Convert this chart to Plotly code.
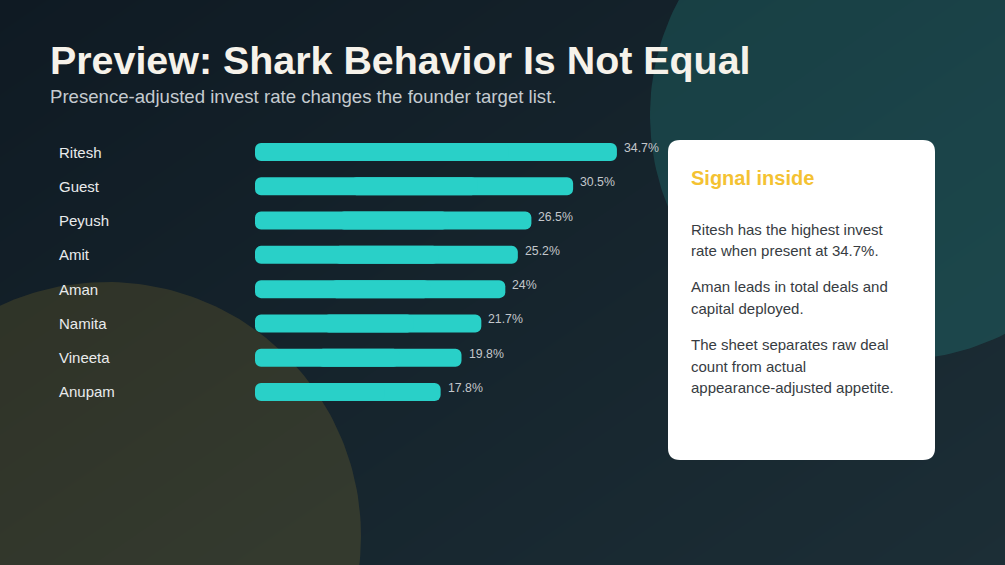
import numpy as np
import plotly.graph_objects as go

# ---- data ----
sharks = ["Ritesh", "Guest", "Peyush", "Amit", "Aman", "Namita", "Vineeta", "Anupam"]
invest_rate = [34.7, 30.5, 26.5, 25.2, 24.0, 21.7, 19.8, 17.8]
value_labels = [f"{v:g}%" for v in invest_rate]

title_text = "Preview: Shark Behavior Is Not Equal"
subtitle_text = "Presence-adjusted invest rate changes the founder target list."
card_title = "Signal inside"
card_lines = [
    ["Ritesh has the highest invest", "rate when present at 34.7%."],
    ["Aman leads in total deals and", "capital deployed."],
    ["The sheet separates raw deal", "count from actual", "appearance-adjusted appetite."],
]

W, H = 1005, 565
FONT = "Liberation Sans, Arial, sans-serif"
BAR_COLOR = "#29d0c8"

fig = go.Figure()

# background gradient (pixel-coordinate background subplot)
fig.add_trace(go.Heatmap(
    x=[0, W], y=[0, H], z=[[0.0, 0.55], [0.45, 1.0]],
    colorscale=[[0, "#0f1a23"], [1, "#1c2e36"]],
    zsmooth="best", showscale=False, hoverinfo="skip",
    xaxis="x", yaxis="y",
))


def circle(cx, cy, r, color):
    t = np.linspace(0, 2 * np.pi, 240)
    fig.add_trace(go.Scatter(
        x=cx + r * np.cos(t), y=cy + r * np.sin(t), mode="lines",
        fill="toself", fillcolor=color, line=dict(width=0),
        hoverinfo="skip", showlegend=False, xaxis="x", yaxis="y",
    ))


circle(895, 115, 245, "rgba(45,212,200,0.17)")
circle(107, 536, 254, "rgba(244,196,48,0.13)")

# bars: each bar drawn as two overlapping pieces, one rounded at the right end
# and one rounded at the left end, so both ends of the bar are rounded
bar_common = dict(
    y=sharks, orientation="h", width=0.525, hoverinfo="skip", showlegend=False,
    xaxis="x2", yaxis="y2",
    marker=dict(color=BAR_COLOR, line=dict(width=0), cornerradius=6),
)
fig.add_trace(go.Bar(x=[0.7 * v for v in invest_rate],
                     base=[0.3 * v for v in invest_rate], **bar_common))
fig.add_trace(go.Bar(x=[-0.7 * v for v in invest_rate],
                     base=[0.7 * v for v in invest_rate], **bar_common))

annotations = []
for name, v, lab in zip(sharks, invest_rate, value_labels):
    annotations.append(dict(
        x=57 / W, xref="paper", y=name, yref="y2", text=name,
        xanchor="left", yanchor="middle", showarrow=False,
        font=dict(family=FONT, size=15, color="#e9ebec"),
    ))
    annotations.append(dict(
        x=v, xref="x2", y=name, yref="y2", text=lab,
        xanchor="left", yanchor="middle", xshift=5, yshift=4, showarrow=False,
        font=dict(family=FONT, size=12.3, color="#c3c7cb"),
    ))

# title / subtitle
annotations.append(dict(
    x=48, y=60, xref="x", yref="y", text=f"<b>{title_text}</b>",
    xanchor="left", yanchor="middle", showarrow=False,
    font=dict(family=FONT, size=39.4, color="#f6f2ea"),
))
annotations.append(dict(
    x=48, y=96, xref="x", yref="y", text=subtitle_text,
    xanchor="left", yanchor="middle", showarrow=False,
    font=dict(family=FONT, size=18.6, color="#c5cbd0"),
))

# card text
annotations.append(dict(
    x=689, y=178, xref="x", yref="y", text=f"<b>{card_title}</b>",
    xanchor="left", yanchor="middle", showarrow=False,
    font=dict(family=FONT, size=20, color="#f4c232"),
))
y0 = 229
for para in card_lines:
    for line in para:
        annotations.append(dict(
            x=689, y=y0, xref="x", yref="y", text=line,
            xanchor="left", yanchor="middle", showarrow=False,
            font=dict(family=FONT, size=15, color="#373c42"),
        ))
        y0 += 21.7
    y0 += 14.3

r = 12
x0c, x1c, y0c, y1c = 668, 935, 140, 460
card_path = (
    f"M {x0c + r},{y0c} L {x1c - r},{y0c} Q {x1c},{y0c} {x1c},{y0c + r} "
    f"L {x1c},{y1c - r} Q {x1c},{y1c} {x1c - r},{y1c} "
    f"L {x0c + r},{y1c} Q {x0c},{y1c} {x0c},{y1c - r} "
    f"L {x0c},{y0c + r} Q {x0c},{y0c} {x0c + r},{y0c} Z"
)

fig.update_layout(
    width=W, height=H,
    margin=dict(l=0, r=0, t=0, b=0),
    paper_bgcolor="#142129", plot_bgcolor="rgba(0,0,0,0)",
    showlegend=False, barmode="overlay",
    xaxis=dict(domain=[0, 1], range=[0, W], visible=False, fixedrange=True),
    yaxis=dict(domain=[0, 1], range=[H, 0], visible=False, fixedrange=True),
    xaxis2=dict(domain=[255 / W, (255 + 40 * 10.43) / W], range=[0, 40],
                visible=False, anchor="y2", fixedrange=True),
    yaxis2=dict(domain=[1 - 409.1 / H, 1 - 134.9 / H], range=[7.5, -0.5],
                type="category", categoryorder="array", categoryarray=sharks,
                visible=False, anchor="x2", fixedrange=True),
    shapes=[dict(type="path", path=card_path, xref="x", yref="y",
                 fillcolor="#ffffff", line=dict(width=0), layer="above")],
    annotations=annotations,
)

fig.write_html(
    "out.html",
    config={"displayModeBar": False},
    post_script="document.body.style.margin='0';document.body.style.overflow='hidden';",
)
